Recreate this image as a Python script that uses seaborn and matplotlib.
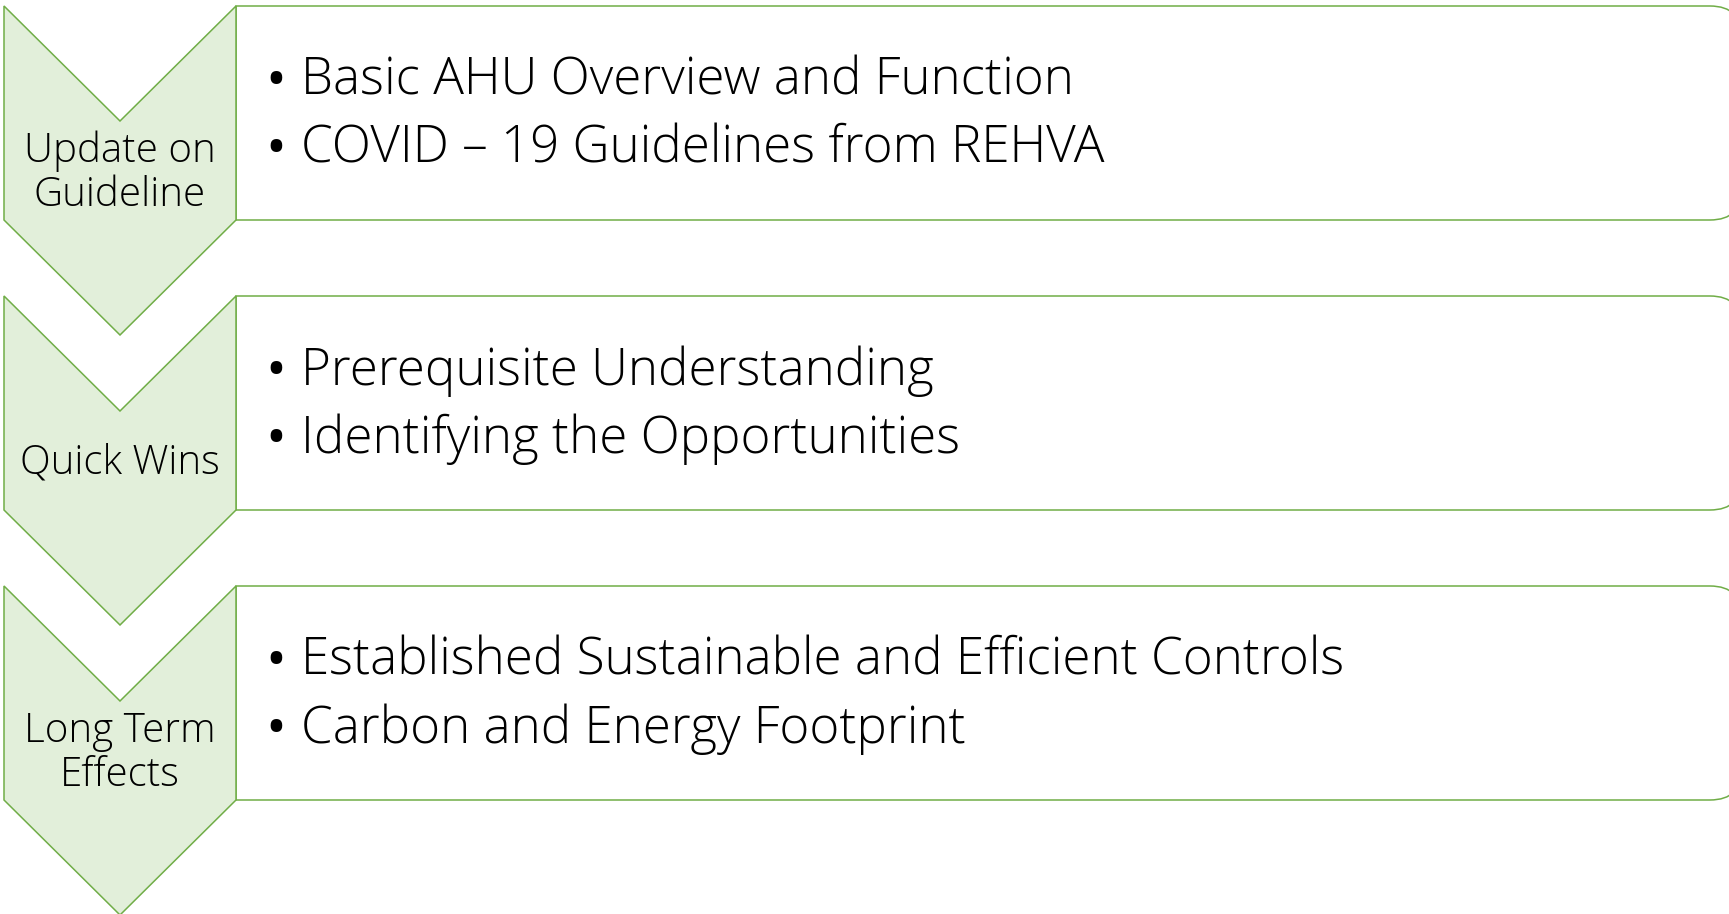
import matplotlib
matplotlib.use("Agg")
import matplotlib.pyplot as plt
import seaborn as sns
from matplotlib.patches import PathPatch, Polygon
from matplotlib.path import Path

stages = ["Update on\nGuideline", "Quick Wins", "Long Term\nEffects"]
bullets = [
    ["Basic AHU Overview and Function", "COVID \u2013 19 Guidelines from REHVA"],
    ["Prerequisite Understanding", "Identifying the Opportunities"],
    ["Established Sustainable and Efficient Controls", "Carbon and Energy Footprint"],
]

FILL = "#E2EFDA"
EDGE = "#70AD47"

sns.set_theme(style="white")
plt.rcParams["font.family"] = ["Open Sans", "DejaVu Sans"]

W, H = 1729, 914
fig = plt.figure(figsize=(W / 100, H / 100), dpi=100)
ax = fig.add_axes([0, 0, 1, 1])
ax.set_xlim(0, W)
ax.set_ylim(H, 0)
ax.axis("off")

x0, x1 = 4, 236
step, depth, side = 290, 115, 214
xr, rad = 1742, 32

for i, (stage, items) in enumerate(zip(stages, bullets)):
    top = 6 + i * step
    xm = (x0 + x1) / 2
    chevron = Polygon(
        [(x0, top), (xm, top + depth), (x1, top), (x1, top + side),
         (xm, top + side + depth), (x0, top + side)],
        closed=True, facecolor=FILL, edgecolor=EDGE, linewidth=1.1, zorder=2,
    )
    ax.add_patch(chevron)

    # text box: square on the left, rounded on the right
    bot = top + side
    verts = [(x1, top), (xr - rad, top), (xr, top), (xr, top + rad),
             (xr, bot - rad), (xr, bot), (xr - rad, bot), (x1, bot), (x1, top)]
    codes = [Path.MOVETO, Path.LINETO, Path.CURVE3, Path.CURVE3,
             Path.LINETO, Path.CURVE3, Path.CURVE3, Path.LINETO, Path.CLOSEPOLY]
    ax.add_patch(PathPatch(Path(verts, codes), facecolor="white", edgecolor=EDGE,
                           linewidth=1.1, zorder=1))

    ax.text(xm, top + (depth + side) / 2 + 3, stage, ha="center", va="center",
            fontsize=29, fontweight="light", color="black", linespacing=1.1, zorder=3)

    cy = top + side / 2 + 2
    for j, item in enumerate(items):
        y = cy + (j - 0.5) * 68
        ax.text(276, y + 2, "\u2022", ha="center", va="center", fontsize=40, color="black")
        ax.text(301, y, item, ha="left", va="center", fontsize=36.8,
                fontweight="light", color="black")

fig.savefig("out.png", dpi=100)
